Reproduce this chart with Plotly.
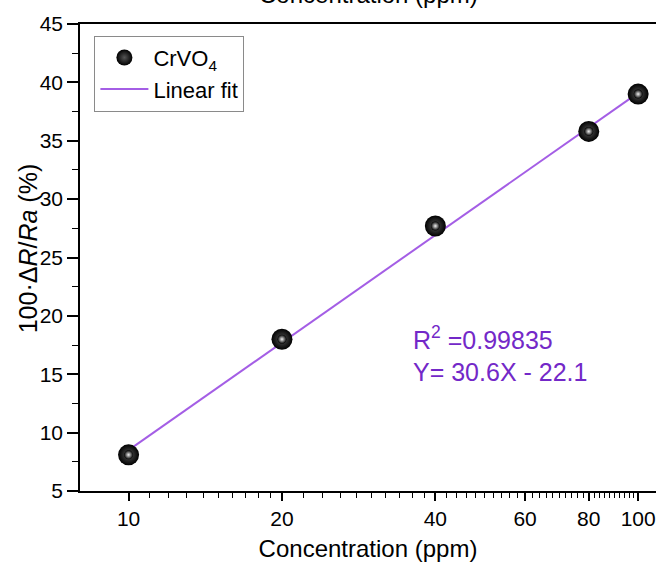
import numpy as np
import plotly.graph_objects as go

# Data
conc = [10, 20, 40, 80, 100]
response = [8.1, 18.0, 27.7, 35.8, 39.0]
fit_x = [10, 100]
fit_y = [8.5, 39.1]
xtick_vals = [10, 20, 40, 60, 80, 100]
xtick_text = ["10", "20", "40", "60", "80", "100"]
xminor_vals = list(range(11, 20)) + list(range(22, 40, 2)) + list(range(42, 100, 2))
ytick_vals = [5, 10, 15, 20, 25, 30, 35, 40, 45]

FONT = "Arial, Liberation Sans, Helvetica, sans-serif"
LINE_COLOR = "#a45ee5"
TEXT_PURPLE = "#7328c8"

fig = go.Figure()

fig.add_trace(go.Scatter(
    x=fit_x, y=fit_y, mode="lines", name="Linear fit",
    line=dict(color=LINE_COLOR, width=2), legendrank=2,
))
fig.add_trace(go.Scatter(
    x=conc, y=response, mode="markers", name="CrVO<sub>4</sub>",
    marker=dict(size=21, color="black", line=dict(width=0),
                gradient=dict(type="radial", color="#555555")),
    legendrank=1,
))
fig.add_trace(go.Scatter(
    x=conc, y=response, mode="markers", showlegend=False, hoverinfo="skip",
    marker=dict(size=9, color="black", line=dict(width=0),
                gradient=dict(type="radial", color="#f2f2f2")),
))

fig.add_annotation(
    x=0.575, y=0.294, xref="paper", yref="paper", xanchor="left", yanchor="middle",
    text="R<sup>2</sup> =0.99835<br>Y= 30.6X - 22.1", showarrow=False, align="left",
    font=dict(family=FONT, size=25, color=TEXT_PURPLE),
)
# Top (cut-off) axis title
fig.add_annotation(
    x=0.5, y=1.031, xref="paper", yref="paper", xanchor="center", yanchor="bottom",
    text="Concentration (ppm)", showarrow=False,
    font=dict(family=FONT, size=24, color="black"),
)
# Y axis title
fig.add_annotation(
    x=-0.09, y=0.52, xref="paper", yref="paper", xanchor="center", yanchor="middle",
    text="100·Δ<i>R</i>/<i>Ra</i> (%)", showarrow=False, textangle=-90,
    font=dict(family=FONT, size=25, color="black"),
)

fig.update_layout(
    width=656, height=564,
    margin=dict(l=80, r=0, t=24, b=73),
    paper_bgcolor="white", plot_bgcolor="white",
    font=dict(family=FONT, size=21, color="black"),
    legend=dict(
        x=0.025, y=0.975, xanchor="left", yanchor="top",
        bordercolor="#8a8a8a", borderwidth=1, bgcolor="white",
        font=dict(family=FONT, size=22, color="black"),
        tracegroupgap=0, itemwidth=48,
    ),
    xaxis=dict(
        type="log", range=[np.log10(8.03), np.log10(108.4)],
        tickmode="array", tickvals=xtick_vals, ticktext=xtick_text,
        ticks="outside", ticklen=8, tickwidth=1.5, tickcolor="black",
        showline=True, linecolor="black", linewidth=1.5, mirror=True,
        showgrid=False, zeroline=False,
        minor=dict(tickmode="array", tickvals=xminor_vals, ticks="outside",
                   ticklen=5, tickwidth=1.2, tickcolor="black", showgrid=False),
        title=dict(text="Concentration (ppm)", font=dict(size=24), standoff=11),
        tickfont=dict(size=21),
    ),
    yaxis=dict(
        range=[5, 45], tickmode="array", tickvals=ytick_vals,
        ticks="outside", ticklen=11, tickwidth=1.5, tickcolor="black",
        showline=True, linecolor="black", linewidth=1.5,
        showgrid=False, zeroline=False,
        minor=dict(dtick=2.5, tick0=5, ticks="outside", ticklen=6,
                   tickwidth=1.2, tickcolor="black", showgrid=False),
        tickfont=dict(size=21),
    ),
)

fig.write_html("out.html")
